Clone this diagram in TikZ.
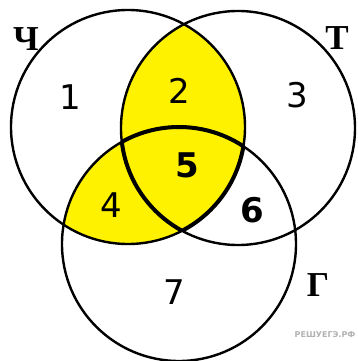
\documentclass[tikz,border=0pt]{standalone}
\usepackage{fontspec}
\newfontfamily\digitfont{DejaVu Sans}
\newfontfamily\letterfont{Liberation Serif}
\begin{document}
\begin{tikzpicture}[
  x=1pt, y=-1pt,
  ring/.style={line width=2.4pt},
  core/.style={line width=4pt},
  digit/.style={font=\digitfont\fontsize{34}{34}\selectfont},
  setname/.style={font=\letterfont\bfseries\fontsize{35}{35}\selectfont},
]
\useasboundingbox (0,0) rectangle (358,361);

\coordinate (ch) at (128,127);
\coordinate (t)  at (238,128);
\coordinate (g)  at (179,244);

% yellow part: inside Ch and inside T or G
\begin{scope}
  \clip (ch) circle[radius=117pt];
  \fill[yellow] (t) circle[radius=117pt];
  \fill[yellow] (g) circle[radius=117pt];
\end{scope}

\foreach \c in {ch, t, g} {
  \draw[ring] (\c) circle[radius=117pt];
}

% thick border of region 5
\foreach \a/\b/\c in {ch/t/g, t/g/ch, g/ch/t} {
  \begin{scope}
    \clip (\b) circle[radius=117pt];
    \clip (\c) circle[radius=117pt];
    \draw[core] (\a) circle[radius=117pt];
  \end{scope}
}

\foreach \n/\x/\y in {1/70/97, 2/179/91, 3/297/95, 4/111/205, 7/174/292} {
  \node[digit] (n\n) at (\x,\y) {\n};
}
\node[digit, font=\digitfont\bfseries\fontsize{34}{34}\selectfont] (n5) at (187,165) {5};
\node[digit, font=\digitfont\bfseries\fontsize{34}{34}\selectfont] (n6) at (252,210) {6};

\node[setname] (lch) at (26,39) {Ч};
\node[setname] (lt)  at (337,38) {Т};
\node[setname] (lg)  at (318,285) {Г};

\node[font=\digitfont\bfseries\fontsize{8}{8}\selectfont, text=black!30] (mark) at (325,335) {РЕШУЕГЭ.РФ};
\end{tikzpicture}
\end{document}
